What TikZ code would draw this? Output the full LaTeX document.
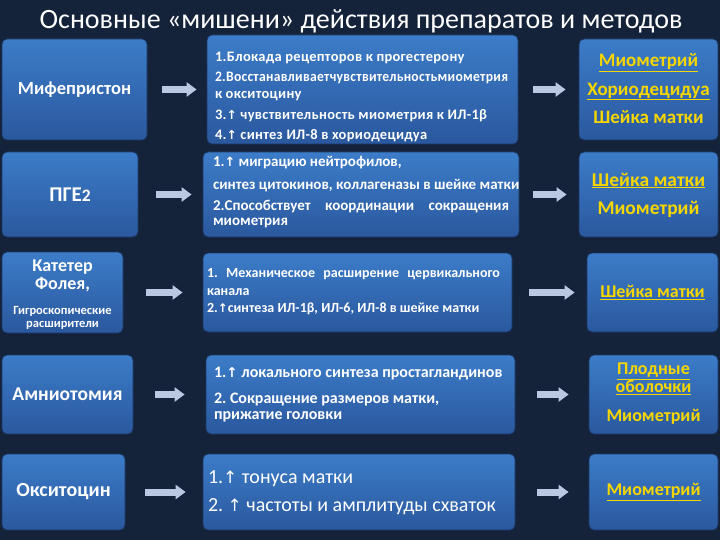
\documentclass[tikz,border=0pt]{standalone}
\usepackage{fontspec}
\setmainfont{Carlito}
\newfontfamily\dv{DejaVu Sans}
\usetikzlibrary{arrows.meta}
\definecolor{bg}{RGB}{20,34,58}
\definecolor{boxtop}{RGB}{60,124,200}
\definecolor{boxbot}{RGB}{42,88,158}
\definecolor{boxedge}{RGB}{28,56,100}
\definecolor{arrowc}{RGB}{186,200,226}
\definecolor{yel}{RGB}{246,214,0}
\newcommand{\uarr}{{\dv\scalebox{0.85}{↑}}}
\newcommand{\jl}[2]{\leavevmode\hbox to #1{#2}}
\newcommand{\fs}[2]{\fontsize{#1}{#2}\selectfont}
\newcommand{\ctab}[1]{\begin{tabular}{@{}c@{}}#1\end{tabular}}
% width, top strut, bottom strut, text
\newcommand{\mtab}[4]{\parbox{#1}{\raggedright\lineskiplimit=-30pt\relax\rule{0pt}{#2}#4\rule[-#3]{0pt}{#3}}}
\begin{document}
\frenchspacing
\begin{tikzpicture}[x=1pt,y=-1pt,
  box/.style={rounded corners=5pt, top color=boxtop, bottom color=boxbot, draw=boxedge,
    line width=0.8pt, text=white, inner sep=0pt},
  tgt/.style={box, text=yel},
  arr/.style={draw=arrowc, line width=7pt, -{Triangle[length=10pt,width=14pt]}}
]
\fill[bg] (0,0) rectangle (720,540);
\useasboundingbox (0,0) rectangle (720,540);

\node[text=white, font=\fs{28}{32}] (title) at (361,21) {Основные «мишени» действия препаратов и методов};

% Row 1
\node[box, minimum width=145pt, minimum height=101pt, font=\bfseries\fs{18.5}{22}] (l1) at (74.5,89.5) {Мифепристон};
\node[box, minimum width=311pt, minimum height=101pt, font=\bfseries\fs{14.5}{17}\addfontfeatures{LetterSpace=2}] (m1) at (362.5,89.5)
 {\mtab{295pt}{27pt}{4pt}{\mbox{1.Блокада рецепторов к прогестерону}\\[3pt]
  \resizebox{293pt}{\height}{2.Восстанавливаетчувствительностьмиометрия}\\
  к окситоцину\\[4pt]
  \mbox{3.\uarr{} чувствительность миометрия к ИЛ-1β}\\[3pt]
  \mbox{4.\uarr{} синтез ИЛ-8 в хориодецидуа}}};
\node[tgt, minimum width=139pt, minimum height=101pt, font=\bfseries\fs{19}{28.5}] (r1) at (648.5,89.5)
 {\ctab{\underline{Миометрий}\\\underline{Хориодецидуа}\\Шейка матки}};

% Row 2
\node[box, minimum width=136pt, minimum height=85pt, font=\bfseries\fs{21}{24}] (l2) at (70,194.5) {ПГЕ\fs{17.5}{24}2};
\node[box, minimum width=316pt, minimum height=85pt, font=\bfseries\fs{15}{15}] (m2) at (361,194.5)
 {\mtab{296pt}{12pt}{8pt}{\mbox{1.\uarr{} миграцию нейтрофилов,}\\[8pt]
  \mbox{синтез цитокинов, коллагеназы в шейке матки}\\[6pt]
  \jl{296pt}{2.Способствует\hfill координации\hfill сокращения}\\
  миометрия}};
\node[tgt, minimum width=139pt, minimum height=85pt, font=\bfseries\fs{19.5}{28}] (r2) at (648.5,194.5)
 {\ctab{\underline{Шейка матки}\\Миометрий}};

% Row 3
\node[box, minimum width=121pt, minimum height=79pt, font=\bfseries\fs{18}{18}] (l3) at (62.5,292.5)
 {\ctab{\rule{0pt}{19.6pt}Катетер\\Фолея,\\[7pt]
  \fs{12.5}{13}Гигроскопические\\[-5pt]\fs{12.5}{13}расширители}};
\node[box, minimum width=309pt, minimum height=79pt, font=\bfseries\fs{14}{17.5}] (m3) at (357.5,292.5)
 {\mtab{301pt}{12pt}{7pt}{\jl{293pt}{1.\hfill Механическое\hfill расширение\hfill цервикального}\\
  канала\\
  \mbox{2.\uarr{}синтеза ИЛ-1β, ИЛ-6, ИЛ-8 в шейке матки}}};
\node[tgt, minimum width=131pt, minimum height=79pt, font=\bfseries\fs{18}{20}] (r3) at (652.5,292.5)
 {\underline{Шейка матки}};

% Row 4
\node[box, minimum width=131pt, minimum height=79pt, font=\bfseries\fs{19.5}{22}] (l4) at (67.5,394.5) {Амниотомия};
\node[box, minimum width=309pt, minimum height=79pt, font=\bfseries\fs{16}{16}] (m4) at (360.5,394.5)
 {\mtab{293pt}{14pt}{7pt}{\mbox{1.\uarr{} локального синтеза простагландинов}\\[10pt]
  \mbox{2. Сокращение размеров матки,}\\
  прижатие головки}};
\node[tgt, minimum width=129pt, minimum height=79pt, font=\bfseries\fs{18}{18}] (r4) at (653.5,394.5)
 {\ctab{\underline{Плодные}\\\underline{оболочки}\\[11pt]Миометрий}};

% Row 5
\node[box, minimum width=123pt, minimum height=76pt, font=\bfseries\fs{20}{22}] (l5) at (63.5,492) {Окситоцин};
\node[box, minimum width=312pt, minimum height=76pt, font=\fs{20}{28}] (m5) at (359,492)
 {\mtab{302pt}{16pt}{6pt}{\mbox{1.\uarr{} тонуса матки}\\
  \mbox{2. \uarr{} частоты и амплитуды схваток}}};
\node[tgt, minimum width=129pt, minimum height=76pt, font=\bfseries\fs{18}{20}] (r5) at (653.5,492)
 {\underline{Миометрий}};

% Arrows
\draw[arr, shorten <=15pt, shorten >=10pt] (l1) -- (m1);
\draw[arr, shorten <=15pt, shorten >=13pt] (m1) -- (r1);
\draw[arr, shorten <=18pt, shorten >=11pt] (l2) -- (m2);
\draw[arr, shorten <=14pt, shorten >=12pt] (m2) -- (r2);
\draw[arr, shorten <=23pt, shorten >=20pt] (l3) -- (m3);
\draw[arr, shorten <=17pt, shorten >=12pt] (m3) -- (r3);
\draw[arr, shorten <=22pt, shorten >=21pt] (l4) -- (m4);
\draw[arr, shorten <=22pt, shorten >=20pt] (m4) -- (r4);
\draw[arr, shorten <=20pt, shorten >=17pt] (l5) -- (m5);
\draw[arr, shorten <=22pt, shorten >=20pt] (m5) -- (r5);
\end{tikzpicture}
\end{document}
